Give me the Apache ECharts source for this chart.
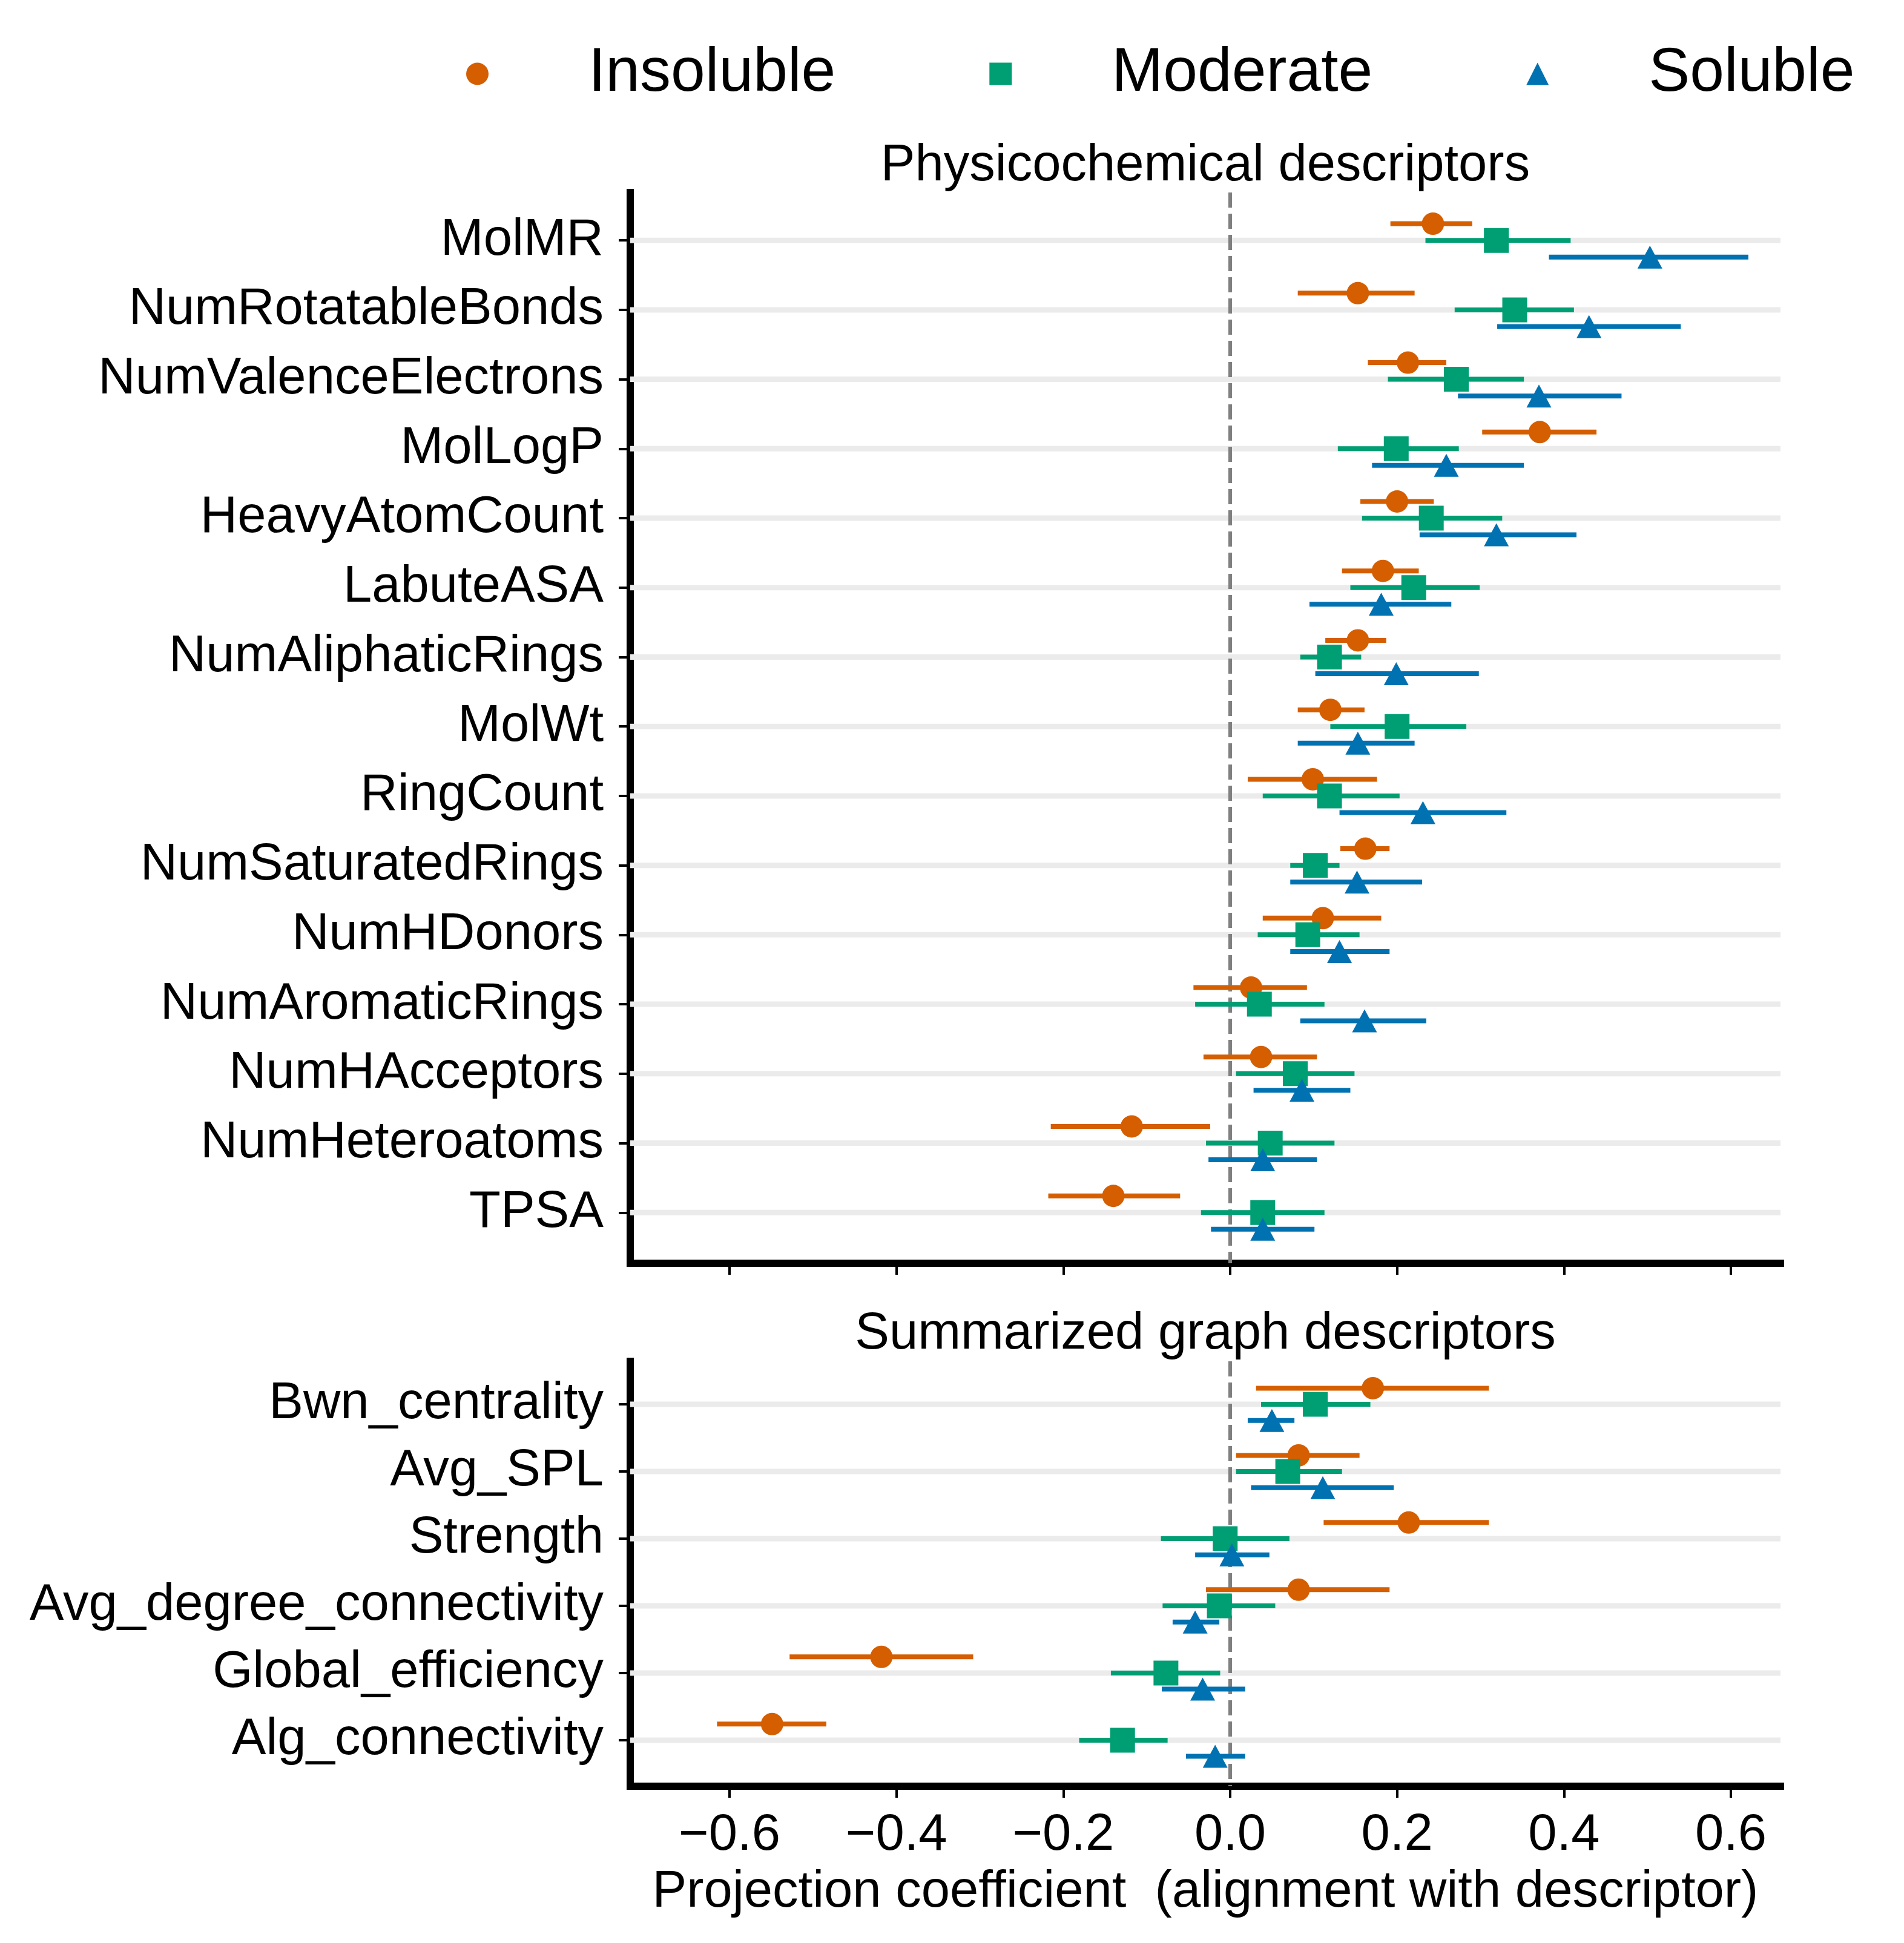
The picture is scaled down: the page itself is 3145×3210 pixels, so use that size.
<!DOCTYPE html>
<html>
<head>
<meta charset="utf-8">
<script src="https://cdn.jsdelivr.net/npm/echarts@6/dist/echarts.min.js"></script>
<style>
html,body{margin:0;padding:0;background:#ffffff;}
#chart{width:3145px;height:3210px;}
</style>
</head>
<body>
<div id="chart"></div>
<script>
// ---------------- data ----------------
const physCategories = ['MolMR','NumRotatableBonds','NumValenceElectrons','MolLogP','HeavyAtomCount','LabuteASA','NumAliphaticRings','MolWt','RingCount','NumSaturatedRings','NumHDonors','NumAromaticRings','NumHAcceptors','NumHeteroatoms','TPSA'];
// [mean, low, high]
const physInsoluble = [[0.243,0.192,0.290],[0.153,0.081,0.221],[0.213,0.165,0.259],[0.371,0.302,0.439],[0.200,0.156,0.244],[0.183,0.134,0.226],[0.153,0.114,0.187],[0.120,0.081,0.161],[0.099,0.021,0.176],[0.162,0.132,0.191],[0.111,0.039,0.181],[0.025,-0.044,0.092],[0.037,-0.032,0.104],[-0.118,-0.215,-0.024],[-0.140,-0.218,-0.060]];
const physModerate = [[0.319,0.234,0.408],[0.341,0.269,0.412],[0.271,0.189,0.352],[0.199,0.129,0.274],[0.241,0.158,0.326],[0.220,0.144,0.299],[0.119,0.084,0.157],[0.200,0.120,0.283],[0.119,0.039,0.203],[0.102,0.072,0.131],[0.093,0.033,0.155],[0.035,-0.042,0.113],[0.078,0.007,0.149],[0.048,-0.029,0.125],[0.039,-0.035,0.113]];
const physSoluble = [[0.503,0.382,0.621],[0.430,0.320,0.540],[0.370,0.273,0.469],[0.259,0.170,0.352],[0.319,0.227,0.415],[0.181,0.095,0.265],[0.199,0.102,0.298],[0.153,0.081,0.221],[0.231,0.131,0.331],[0.152,0.072,0.230],[0.131,0.072,0.191],[0.161,0.084,0.235],[0.086,0.028,0.144],[0.039,-0.026,0.104],[0.039,-0.023,0.101]];

const graphCategories = ['Bwn_centrality','Avg_SPL','Strength','Avg_degree_connectivity','Global_efficiency','Alg_connectivity'];
const graphInsoluble = [[0.171,0.031,0.310],[0.082,0.007,0.155],[0.214,0.112,0.310],[0.082,-0.029,0.191],[-0.418,-0.528,-0.308],[-0.549,-0.615,-0.484]];
const graphModerate = [[0.102,0.037,0.168],[0.069,0.007,0.134],[-0.006,-0.083,0.071],[-0.013,-0.081,0.054],[-0.077,-0.143,-0.012],[-0.129,-0.181,-0.075]];
const graphSoluble = [[0.050,0.021,0.077],[0.111,0.025,0.196],[0.002,-0.042,0.047],[-0.042,-0.069,-0.013],[-0.033,-0.082,0.018],[-0.018,-0.053,0.018]];

const xTicks = [-0.6,-0.4,-0.2,0.0,0.2,0.4,0.6];
const classNames = ['Insoluble','Moderate','Soluble'];
const panelTitles = ['Physicochemical descriptors','Summarized graph descriptors'];
const xAxisName = 'Projection coefficient  (alignment with descriptor)';

// ---------------- styles / layout ----------------
const FONT = 'Liberation Sans, Arial, Helvetica, sans-serif';
const classColors = ['#D55E00','#009E73','#0072B2'];
const classSymbols = ['circle','rect','triangle'];
const classSymbolSizes = [37, 41, [41,38]];
const classOffsets = [-0.24, 0, 0.24];
const X_MIN = -0.719, X_MAX = 0.6595;
const yRanges = [[-0.69, 14.73], [-0.64, 5.685]];
const grids = [
  {left:1041, top:318, width:1900, height:1769},
  {left:1041, top:2249, width:1900, height:702}
];

const chart = echarts.init(document.getElementById('chart'), null, {renderer:'canvas'});

function fmtX(v){
  const s = Math.abs(v).toFixed(1);
  return (v < -1e-9 ? '\u2212' : '') + s;
}

function makeXAxis(gi, withLabels){
  const ax = {
    type:'value', gridIndex:gi, min:X_MIN, max:X_MAX,
    axisLine:{show:true, onZero:false, lineStyle:{color:'#000', width:12, cap:'square'}},
    axisTick:{show:true, customValues:xTicks, length:19, lineStyle:{color:'#000', width:4}},
    axisLabel:{show:withLabels, customValues:xTicks, formatter:fmtX, fontSize:85, color:'#000', fontFamily:FONT, margin:39},
    splitLine:{show:false}
  };
  if (withLabels){
    ax.name = xAxisName;
    ax.nameLocation = 'middle';
    ax.nameGap = 133;
    ax.nameTextStyle = {fontSize:85, color:'#000', fontFamily:FONT};
  }
  return ax;
}

function makeYAxis(gi, cats){
  const idx = cats.map((c,i)=>i);
  return {
    type:'value', gridIndex:gi, inverse:true, min:yRanges[gi][0], max:yRanges[gi][1],
    axisLine:{show:true, onZero:false, lineStyle:{color:'#000', width:12, cap:'square'}},
    axisTick:{show:true, customValues:idx, length:19, lineStyle:{color:'#000', width:4}},
    axisLabel:{show:true, customValues:idx, formatter:(v)=>cats[Math.round(v)], fontSize:85, color:'#000', fontFamily:FONT, margin:44},
    splitLine:{show:false}
  };
}

function errRender(params, api){
  const y = api.value(2);
  const a = api.coord([api.value(0), y]);
  const b = api.coord([api.value(1), y]);
  return {type:'line', shape:{x1:a[0], y1:a[1], x2:b[0], y2:b[1]},
    style:{stroke:api.visual('color'), lineWidth:8, lineCap:'butt'}};
}

function panelSeries(gi, cats, groups){
  const out = [];
  // light horizontal guide lines at each category
  out.push({
    type:'custom', name:'grid'+gi, xAxisIndex:gi, yAxisIndex:gi, z:1, silent:true, clip:false,
    data:cats.map((c,i)=>[0,i]), encode:{x:0,y:1},
    renderItem:(p,api)=>{
      const y = api.value(1);
      const a = api.coord([X_MIN, y]);
      const b = api.coord([X_MAX, y]);
      return {type:'line', shape:{x1:a[0],y1:a[1],x2:b[0],y2:b[1]}, style:{stroke:'#ebebeb', lineWidth:9}};
    }
  });
  // dashed zero line
  out.push({
    type:'custom', name:'zero'+gi, xAxisIndex:gi, yAxisIndex:gi, z:1, silent:true, clip:false,
    data:[[0, yRanges[gi][0]]], encode:{x:0,y:1},
    renderItem:(p,api)=>{
      const a = api.coord([0, yRanges[gi][0]]);
      const b = api.coord([0, yRanges[gi][1]]);
      return {type:'line', shape:{x1:a[0],y1:a[1],x2:b[0],y2:b[1]}, style:{stroke:'#808080', lineWidth:6, lineDash:[25,10]}};
    }
  });
  groups.forEach((vals, k)=>{
    const off = classOffsets[k];
    out.push({
      type:'custom', name:classNames[k]+' interval', xAxisIndex:gi, yAxisIndex:gi, z:2, silent:true,
      itemStyle:{color:classColors[k]},
      data:vals.map((v,i)=>[v[1], v[2], i+off]), encode:{x:[0,1], y:2},
      renderItem:errRender
    });
    out.push({
      type:'scatter', name:classNames[k], xAxisIndex:gi, yAxisIndex:gi, z:2, silent:true,
      symbol:classSymbols[k], symbolSize:classSymbolSizes[k],
      itemStyle:{color:classColors[k], opacity:1},
      emphasis:{disabled:true},
      data:vals.map((v,i)=>[v[0], i+off])
    });
  });
  return out;
}

const option = {
  backgroundColor:'#ffffff',
  animation:false,
  textStyle:{fontFamily:FONT},
  title:[
    {text:panelTitles[0], left:1991, top:232, textAlign:'center', padding:0,
     textStyle:{fontSize:85, fontWeight:'normal', color:'#000', fontFamily:FONT}},
    {text:panelTitles[1], left:1991, top:2162, textAlign:'center', padding:0,
     textStyle:{fontSize:85, fontWeight:'normal', color:'#000', fontFamily:FONT}}
  ],
  legend:{
    data:classNames, left:770, top:71, padding:0,
    itemWidth:37, itemHeight:37, itemGap:254, selectedMode:false,
    textStyle:{fontSize:102, color:'#000', fontFamily:FONT, padding:[0,0,0,160]}
  },
  grid:grids,
  xAxis:[makeXAxis(0,false), makeXAxis(1,true)],
  yAxis:[makeYAxis(0, physCategories), makeYAxis(1, graphCategories)],
  series:[].concat(
    panelSeries(0, physCategories, [physInsoluble, physModerate, physSoluble]),
    panelSeries(1, graphCategories, [graphInsoluble, graphModerate, graphSoluble])
  )
};
chart.setOption(option);
</script>
</body>
</html>
